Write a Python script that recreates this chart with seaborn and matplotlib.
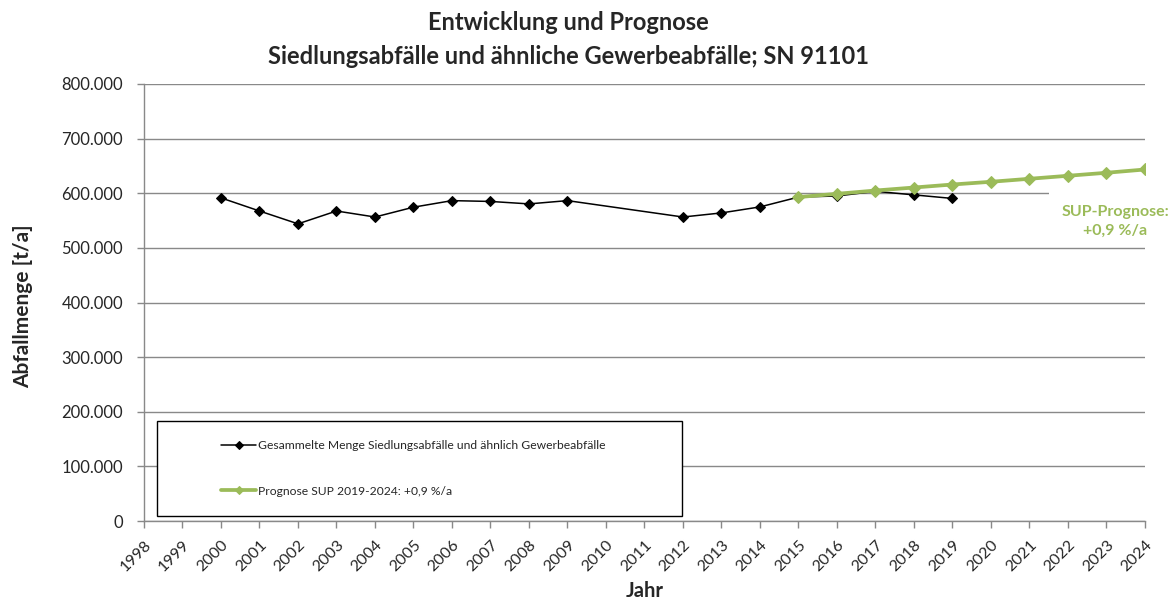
import matplotlib
matplotlib.use("Agg")
import matplotlib.pyplot as plt
from matplotlib.patches import Rectangle
from matplotlib.ticker import FuncFormatter, MultipleLocator
import pandas as pd
import seaborn as sns

# Collected municipal waste (t/a)
years_hist = [2000, 2001, 2002, 2003, 2004, 2005, 2006, 2007, 2008, 2009,
              2012, 2013, 2014, 2015, 2016, 2017, 2018, 2019]
tons_hist = [591500, 567500, 544000, 567500, 556500, 574500, 586500, 585000, 580500, 586500,
             556500, 564000, 575000, 593000, 595000, 603500, 597000, 590500]

# SUP forecast, +0.9 % per year
years_prog = [2015, 2016, 2017, 2018, 2019, 2020, 2021, 2022, 2023, 2024]
tons_prog = [593000, 599000, 605000, 610500, 616000, 621000, 626500, 632000, 637500, 643500]

label_hist = "Gesammelte Menge Siedlungsabfälle und ähnlich Gewerbeabfälle"
label_prog = "Prognose SUP 2019-2024: +0,9 %/a"
title_lines = ["Entwicklung und Prognose",
               "Siedlungsabfälle und ähnliche Gewerbeabfälle; SN 91101"]
note_text = "SUP-Prognose:\n+0,9 %/a"

GREEN = "#9BBB59"
GRID = "#898989"

sns.set_style("white")
plt.rcParams["font.family"] = ["Lato", "DejaVu Sans"]

W, H = 1172, 601
fig = plt.figure(figsize=(W / 100, H / 100), dpi=100)
ax = fig.add_axes([144 / W, 1 - 521 / H, (1145 - 144) / W, (521 - 84) / H])

hist = pd.DataFrame({"Jahr": years_hist, "Menge": tons_hist})
prog = pd.DataFrame({"Jahr": years_prog, "Menge": tons_prog})

sns.lineplot(data=hist, x="Jahr", y="Menge", ax=ax, color="black", lw=1.1,
             marker="D", ms=5, mec="black", mfc="black", label=label_hist, zorder=3)
sns.lineplot(data=prog, x="Jahr", y="Menge", ax=ax, color=GREEN, lw=2.7,
             marker="D", ms=6.5, mec=GREEN, mfc=GREEN, label=label_prog, zorder=4)

ax.set_xlim(1998, 2024)
ax.set_ylim(0, 800000)
ax.xaxis.set_major_locator(MultipleLocator(1))
ax.yaxis.set_major_locator(MultipleLocator(100000))
ax.yaxis.set_major_formatter(FuncFormatter(lambda v, p: f"{int(round(v)):,}".replace(",", ".")))

ax.grid(axis="y", color=GRID, lw=1.0)
ax.grid(axis="x", visible=False)
ax.set_axisbelow(True)
for side in ("top", "right"):
    ax.spines[side].set_visible(False)
for side in ("left", "bottom"):
    ax.spines[side].set_color(GRID)
    ax.spines[side].set_linewidth(1.0)

ax.tick_params(axis="y", direction="out", length=5, width=1, color=GRID,
               labelsize=12, pad=10, left=True)
ax.tick_params(axis="x", direction="out", length=5, width=1, color=GRID,
               labelsize=11.5, pad=7, bottom=True)
for lab in ax.get_xticklabels():
    lab.set_rotation(45)
    lab.set_ha("right")
    lab.set_rotation_mode("anchor")

ax.set_xlabel("Jahr", fontsize=14.5, fontweight="bold")
ax.set_ylabel("Abfallmenge [t/a]", fontsize=15, fontweight="bold")
ax.xaxis.set_label_coords(0.5, (521 - 591) / 437)
ax.xaxis.label.set_va("center")
ax.yaxis.set_label_coords((23 - 144) / 1001, (521 - 306) / 437)
ax.yaxis.label.set_va("center")

# Legend frame and entries
bx0, by0 = (157 - 144) / 1001, (521 - 516) / 437
bw, bh = (682 - 157) / 1001, (516 - 421) / 437
ax.add_patch(Rectangle((bx0, by0), bw, bh, transform=ax.transAxes,
                       facecolor="white", edgecolor="black", lw=1.0, zorder=5))
leg = ax.legend(loc="center", bbox_to_anchor=(bx0 + bw / 2 - 0.006, by0 + bh / 2),
                frameon=False, fontsize=8.7, handlelength=2.9, handletextpad=0.2,
                labelspacing=2.85)
leg.set_zorder(6)
for h, ms in zip(leg.legend_handles, (4, 4.5)):
    h.set_markersize(ms)

# Mask the gridline behind the side note
fig.patches.append(Rectangle((1049 / W, 1 - 200 / H), (1150 - 1049) / W, 12 / H,
                             transform=fig.transFigure, facecolor="white",
                             edgecolor="none", zorder=1))
fig.text(1115.5 / W, 1 - 221 / H, note_text, color=GREEN, fontsize=11.5,
         fontweight="bold", ha="center", va="center", multialignment="center",
         linespacing=1.45)

fig.text(568 / W, 1 - 22 / H, title_lines[0], fontsize=17, fontweight="bold",
         ha="center", va="center")
fig.text(568 / W, 1 - 57 / H, title_lines[1], fontsize=17, fontweight="bold",
         ha="center", va="center")

fig.savefig("out.png", dpi=100)
